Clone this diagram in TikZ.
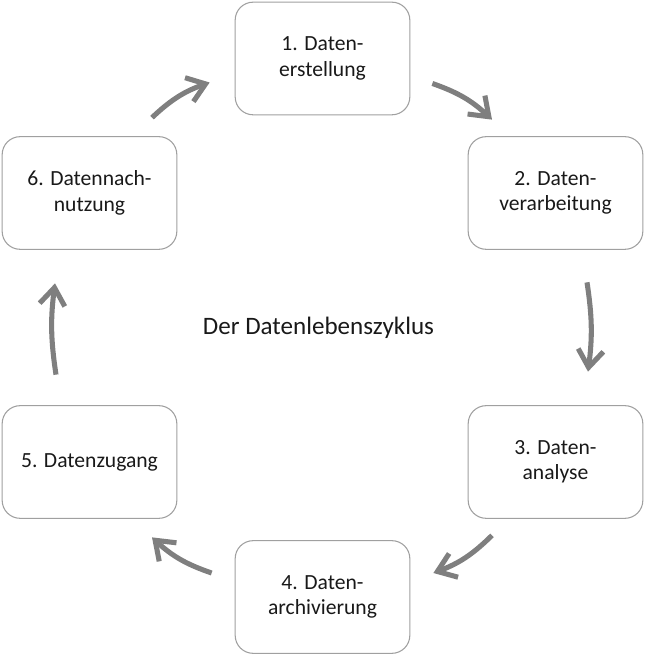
\documentclass[tikz,border=0pt]{standalone}
\usepackage{fontspec}
\setmainfont{Carlito}
\usepackage{tikz}
\usetikzlibrary{calc,arrows.meta}
\definecolor{arrowgray}{HTML}{7F7F7F}
\definecolor{boxgray}{HTML}{A0A0A0}

\begin{document}
\begin{tikzpicture}[x=0.75pt, y=0.75pt,
	phase/.style={draw=boxgray, line width=0.8pt, rounded corners=13.5pt, minimum width=131pt, minimum height=84.5pt, align=center, font=\fontsize{16.2}{19}\selectfont, text=black!90},
	cyclearrow/.style={draw=arrowgray, line width=3.8pt, -{Straight Barb[length=13pt,width=19pt]}}]
		\useasboundingbox (0,0) rectangle (649,656);

		\node [phase] (n1) at (322.5,597.5) {1. Daten-\\erstellung};
		\node [phase] (n2) at (555.5,463) {2. Daten-\\verarbeitung};
		\node [phase] (n3) at (555.5,194) {3. Daten-\\analyse};
		\node [phase] (n4) at (322.5,59) {4. Daten-\\archivierung};
		\node [phase] (n5) at (89.5,194) {5. Datenzugang};
		\node [phase] (n6) at (89.5,463) {6. Datennach-\\nutzung};

		\node [font=\fontsize{18.8}{22}\selectfont, text=black!90] (title) at (318.5,328) {Der Datenlebenszyklus};

		\draw [cyclearrow] ($(n1.east)+(22,-25)$) to[bend left=12] ($(n2.north)+(-63.5,16.5)$);
		\draw [cyclearrow] ($(n2.south)+(31.5,-32.5)$) to[bend left=8] ($(n3.north)+(32.5,33.5)$);
		\draw [cyclearrow] ($(n3.south)+(-63.5,-16.5)$) to[bend left=12] ($(n4.east)+(23,24)$);
		\draw [cyclearrow] ($(n4.west)+(-23,24)$) to[bend left=12] ($(n5.south)+(62.5,-18.5)$);
		\draw [cyclearrow] ($(n5.north)+(-33.5,30.5)$) to[bend left=8] ($(n6.south)+(-34.5,-33.5)$);
		\draw [cyclearrow] ($(n6.north)+(62.5,18.5)$) to[bend left=12] ($(n1.west)+(-25,-24)$);

\end{tikzpicture}
\end{document}
